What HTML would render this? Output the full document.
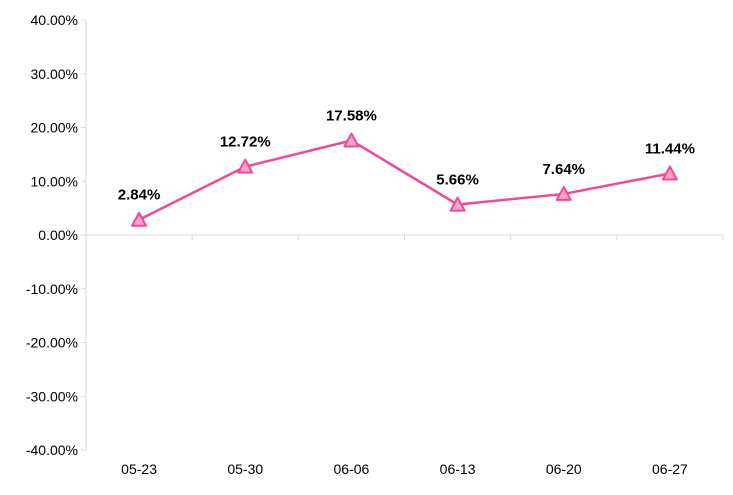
<!DOCTYPE html>
<html><head><meta charset="utf-8"><style>
body{margin:0;background:#fff;}
svg{display:block;font-family:"Liberation Sans",sans-serif;}
</style></head><body>
<svg id="chart" width="733" height="495"></svg>
<script>
const categories=["05-23","05-30","06-06","06-13","06-20","06-27"];
const values=[2.84,12.72,17.58,5.66,7.64,11.44];
const yTicks=[40,30,20,10,0,-10,-20,-30,-40];
const NS="http://www.w3.org/2000/svg";
const svgEl=document.getElementById("chart");
const pL=86,pR=723,pT=20,pB=450,yMin=-40,yMax=40;
const band=(pR-pL)/categories.length;
function xs(i){return pL+band*(i+0.5);}
function ys(v){return pT+(yMax-v)/(yMax-yMin)*(pB-pT);}
function mk(tag,attrs,text){const e=document.createElementNS(NS,tag);for(const k in attrs)e.setAttribute(k,attrs[k]);if(text!==undefined)e.textContent=text;svgEl.appendChild(e);return e;}
let el=mk("line",{x1:pL,y1:pT,x2:pL,y2:pB,stroke:"#d9d9d9","stroke-width":1});


yTicks.forEach(t=>{
  const tk=mk("line",{x1:pL-5,y1:ys(t),x2:pL,y2:ys(t),stroke:"#d9d9d9"});
  
  
  const lb=mk("text",{x:pL-8,y:ys(t)+5,"text-anchor":"end","font-size":14,fill:"#000"},t.toFixed(2)+"%");
  
  
});
el=mk("line",{x1:pL,y1:ys(0),x2:pR,y2:ys(0),stroke:"#d9d9d9"});


categories.forEach((c,i)=>{
  const tx=pL+band*(i+1);
  const tk=mk("line",{x1:tx,y1:ys(0),x2:tx,y2:ys(0)+5,stroke:"#d9d9d9"});
  
  
  const lb=mk("text",{x:xs(i),y:474,"text-anchor":"middle","font-size":14,fill:"#000"},c);
  
  
});
const pts=values.map((v,i)=>xs(i)+","+ys(v)).join(" ");
el=mk("polyline",{points:pts,fill:"none",stroke:"#f0489a","stroke-width":2.5});


values.forEach((v,i)=>{
  const cx=xs(i),cy=ys(v);
  const m=mk("polygon",{points:`${cx},${cy-7} ${cx-7},${cy+6} ${cx+7},${cy+6}`,fill:"#f7a6c9",stroke:"#f0489a","stroke-width":2,"stroke-linejoin":"round"});
  
  
  const lb=mk("text",{x:cx,y:cy-20,"text-anchor":"middle","font-size":15,"font-weight":"bold",fill:"#000"},v.toFixed(2)+"%");
  
  
});
</script>
</body></html>
